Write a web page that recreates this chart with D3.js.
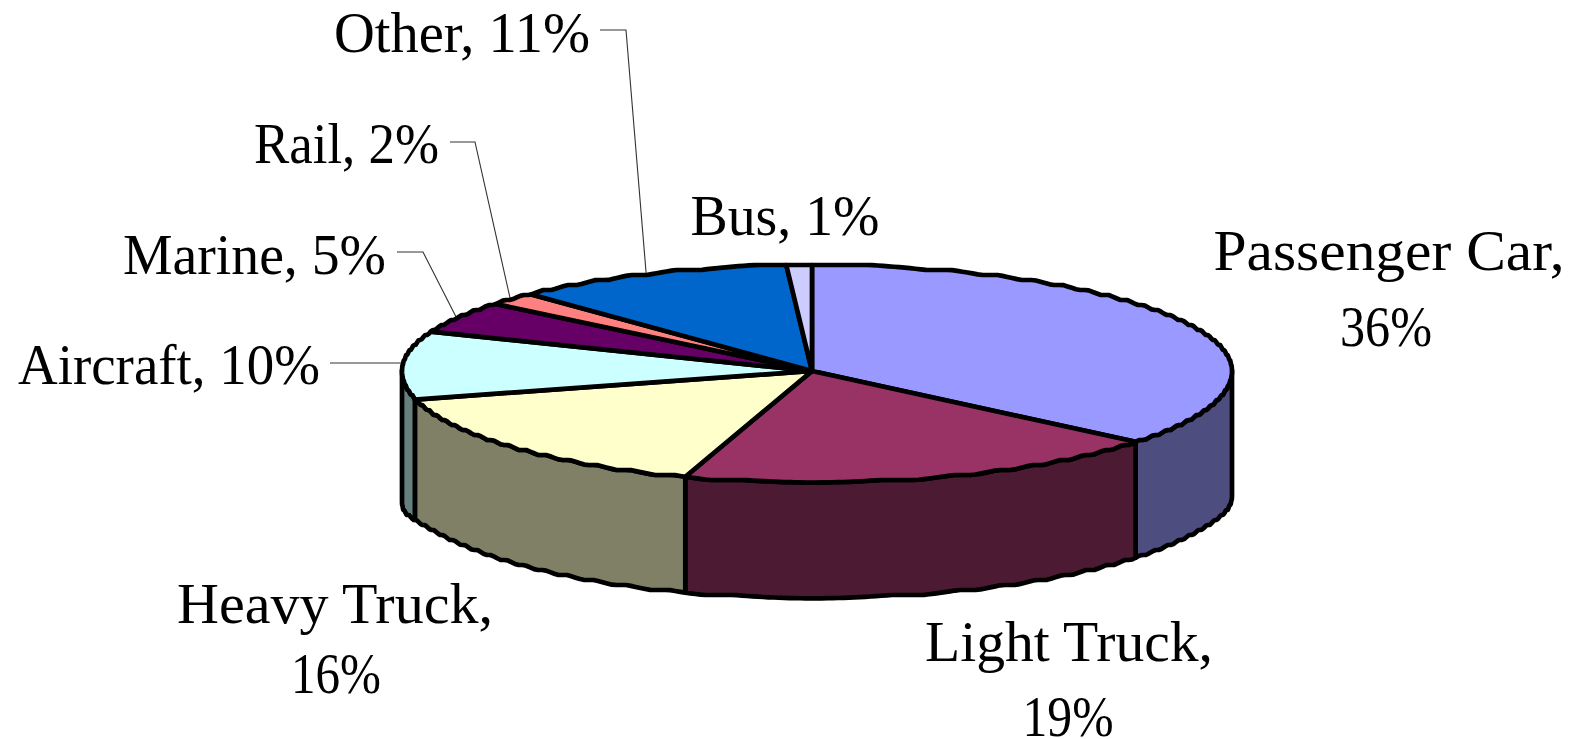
<!DOCTYPE html>
<html><head><meta charset="utf-8">
<script src="https://cdnjs.cloudflare.com/ajax/libs/d3/7.8.5/d3.min.js"></script>
<style>html,body{margin:0;padding:0;background:#fff;overflow:hidden}svg{display:block}</style>
</head><body><svg id="c" width="1575" height="739"></svg>
<script>
const categories = ["Passenger Car","Light Truck","Heavy Truck","Aircraft","Marine","Rail","Other","Bus"];
const shares = [36,19,16,10,5,2,11,1];
const topColors = ["#9999FF","#993366","#FFFFCC","#CCFFFF","#660066","#FF8080","#0066CC","#CCCCFF"];
const sideColors = ["#4D4D80","#4D1A33","#808066","#668080","#330033","#804040","#003366","#666680"];

// layout (separate from the data)
const cx=812, cy=371, rxL=410, rxR=420, ryT=106, ryB=111.5, depth=115.5, grid=5;
const labelLines = {
  "Passenger Car":[{t:"Passenger Car,",x:1389,y:270,w:351},{t:"36%",x:1386,y:346,w:92}],
  "Light Truck":[{t:"Light Truck,",x:1069,y:661,w:288},{t:"19%",x:1068,y:736,w:91}],
  "Heavy Truck":[{t:"Heavy Truck,",x:335,y:623,w:316},{t:"16%",x:336,y:693,w:90}],
  "Aircraft":[{t:"Aircraft, 10%",x:320,y:384,a:"end",w:302}],
  "Marine":[{t:"Marine, 5%",x:386,y:274,a:"end",w:263}],
  "Rail":[{t:"Rail, 2%",x:439,y:163,a:"end",w:185}],
  "Other":[{t:"Other, 11%",x:590,y:52,a:"end",w:256}],
  "Bus":[{t:"Bus, 1%",x:785,y:235,w:189}]
};
const leaderElbows = {
  "Aircraft":[[330,363]],
  "Marine":[[397,252],[423,252]],
  "Rail":[[450,142],[475,142]],
  "Other":[[600,30],[626,30]]
};
const leaderEndShift = 3;

const svg=d3.select("#c");
const arcs=d3.pie().sort(null).value(d=>d).startAngle(0).endAngle(2*Math.PI)(shares);

function stair(y){
  const t=y/grid,k=Math.floor(t),f=t-k;
  return grid*(k+Math.max(0,Math.min(1,(f-0.2)/0.6)));
}
function rawY(a){const c=Math.cos(a);return cy-c*(c>0?ryT:ryB);}
function project(a,jag=true){
  const s=Math.sin(a);
  const x=cx+s*(s>0?rxR:rxL);
  const y=rawY(a);
  return [x,jag?stair(y):y];
}
function samples(a0,a1){
  const n=Math.max(1,Math.ceil((a1-a0)/(Math.PI/240))),as=[];
  for(let i=0;i<=n;i++)as.push(a0+(a1-a0)*i/n);
  return as;
}
function rim(a0,a1){return samples(a0,a1).map(a=>project(a));}
function lowerRim(a0,a1){
  return samples(a0,a1).map(a=>{
    const s=Math.sin(a),extra=(s>0?9:15)*Math.pow(Math.abs(s),30);
    return [project(a)[0],stair(rawY(a)+depth+extra)];
  });
}
const line=d3.line();
const stroke=4.7;

// leader lines
const gLead=svg.append("g");
arcs.forEach((d,i)=>{
  const el=leaderElbows[categories[i]];
  if(!el)return;
  const mid=(d.startAngle+d.endAngle)/2;
  const end=project(mid,false);
  if(el.length===1)end[1]=el[0][1];
  else end[0]-=leaderEndShift;
  gLead.append("path").attr("d",line([...el,end]))
    .attr("fill","none").attr("stroke","#333").attr("stroke-width",1.1);
});

// side walls: only the front half of the rim is visible
const lo=Math.PI/2,hi=3*Math.PI/2;
const gSide=svg.append("g");
arcs.forEach((d,i)=>{
  const a0=Math.max(d.startAngle,lo),a1=Math.min(d.endAngle,hi);
  if(a1<=a0)return;
  gSide.append("path").attr("d",line([...rim(a0,a1),...lowerRim(a0,a1).reverse()])+"Z")
    .attr("fill",sideColors[i]).attr("stroke","#000").attr("stroke-width",stroke).attr("stroke-linejoin","round");
});

// top face
const gTop=svg.append("g");
arcs.forEach((d,i)=>{
  const pts=[[cx,cy],...rim(d.startAngle,d.endAngle)];
  gTop.append("path").attr("d",line(pts)+"Z")
    .attr("fill",topColors[i]).attr("stroke","#000").attr("stroke-width",stroke).attr("stroke-linejoin","round");
});

// labels
const gText=svg.append("g").attr("font-family","'Liberation Serif','Times New Roman',serif").attr("font-size",57).attr("fill","#000");
categories.forEach(c=>{
  labelLines[c].forEach(l=>{
    gText.append("text").attr("x",l.x).attr("y",l.y).attr("text-anchor",l.a||"middle")
      .attr("textLength",l.w).attr("lengthAdjust","spacingAndGlyphs").text(l.t);
  });
});
</script></body></html>
